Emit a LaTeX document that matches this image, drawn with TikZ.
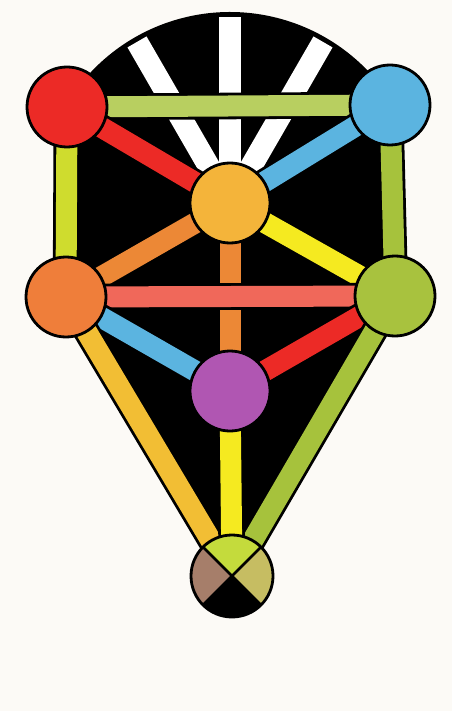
\documentclass[tikz,border=0pt]{standalone}
\begin{document}
\begin{tikzpicture}[x=1pt,y=-1pt]
\definecolor{bgc}{HTML}{FCFAF6}
\definecolor{cred}{HTML}{EC2A26}
\definecolor{cblue}{HTML}{5BB4E0}
\definecolor{camber}{HTML}{F4B43A}
\definecolor{corange}{HTML}{EF7E3A}
\definecolor{cgreen}{HTML}{A8C23E}
\definecolor{cpurple}{HTML}{B056B2}
\definecolor{ctop}{HTML}{B8CF60}
\definecolor{cyg}{HTML}{CFDC2E}
\definecolor{colive}{HTML}{A6C23C}
\definecolor{cor2}{HTML}{EC8836}
\definecolor{cyel}{HTML}{F5EA20}
\definecolor{csalmon}{HTML}{F0685A}
\definecolor{cgold}{HTML}{F2BE34}
\definecolor{qtop}{HTML}{C4DB3C}
\definecolor{qleft}{HTML}{A67E6A}
\definecolor{qright}{HTML}{C6BD62}
\tikzset{
  bar/.style={draw=black, line width=2.8pt, double=#1, double distance=21pt},
  ray/.style={draw=white, line width=22pt},
  sph/.style={circle, draw=black, line width=2.8pt, fill=#1, minimum size=80pt, inner sep=0pt},
  rim/.style={draw=black, line width=2.8pt},
}
\fill[bgc] (0,0) rectangle (452,711);
\useasboundingbox (0,0) rectangle (452,711);
% centres
\coordinate (K) at (230,203);
\coordinate (R) at (67,107);
\coordinate (B) at (390,105);
\coordinate (O) at (66,297);
\coordinate (G) at (395,296);
\coordinate (P) at (230,391);
\coordinate (M) at (232,576);
% black ground
\fill[black] (K) ++(-138:191) arc[start angle=-138, end angle=-42, radius=191]
  -- (B) -- (G) -- (M) -- (O) -- (R) -- cycle;
% white rays
\path (K) ++(-90:186) coordinate (r1);
\path (K) ++(-120:186) coordinate (r2);
\path (K) ++(-60:186) coordinate (r3);
\draw[ray] (K) -- (r1);
\draw[ray] (K) -- (r2);
\draw[ray] (K) -- (r3);
% paths
\draw[bar=ctop] (R) -- (B);
\draw[bar=cred] (R) -- (K);
\draw[bar=cblue] (B) -- (K);
\draw[bar=cyg] (R) -- (O);
\draw[bar=colive] (B) -- (G);
\draw[bar=cor2] (K) -- (O);
\draw[bar=cyel] (K) -- (G);
\draw[bar=cor2] (K) -- (P);
\draw[bar=csalmon] (O) -- (G);
\draw[bar=cblue] (O) -- (P);
\draw[bar=cred] (G) -- (P);
\draw[bar=cgold] (O) -- (M);
\draw[bar=colive] (G) -- (M);
\draw[bar=cyel] (P) -- (M);
% spheres
\node[sph=cred] (nR) at (R) {};
\node[sph=cblue] (nB) at (B) {};
\node[sph=camber] (nK) at (K) {};
\node[sph=corange] (nO) at (O) {};
\node[sph=cgreen] (nG) at (G) {};
\node[sph=cpurple] (nP) at (P) {};
% quartered sphere
\fill[qtop] (M) -- ++(-135:41) arc[start angle=-135, end angle=-45, radius=41] -- cycle;
\fill[qright] (M) -- ++(-45:41) arc[start angle=-45, end angle=45, radius=41] -- cycle;
\fill[black] (M) -- ++(45:41) arc[start angle=45, end angle=135, radius=41] -- cycle;
\fill[qleft] (M) -- ++(135:41) arc[start angle=135, end angle=225, radius=41] -- cycle;
\draw[rim] (M) +(-135:41) -- +(45:41);
\draw[rim] (M) +(-45:41) -- +(135:41);
\draw[rim] (M) circle[radius=41];
\end{tikzpicture}
\end{document}
